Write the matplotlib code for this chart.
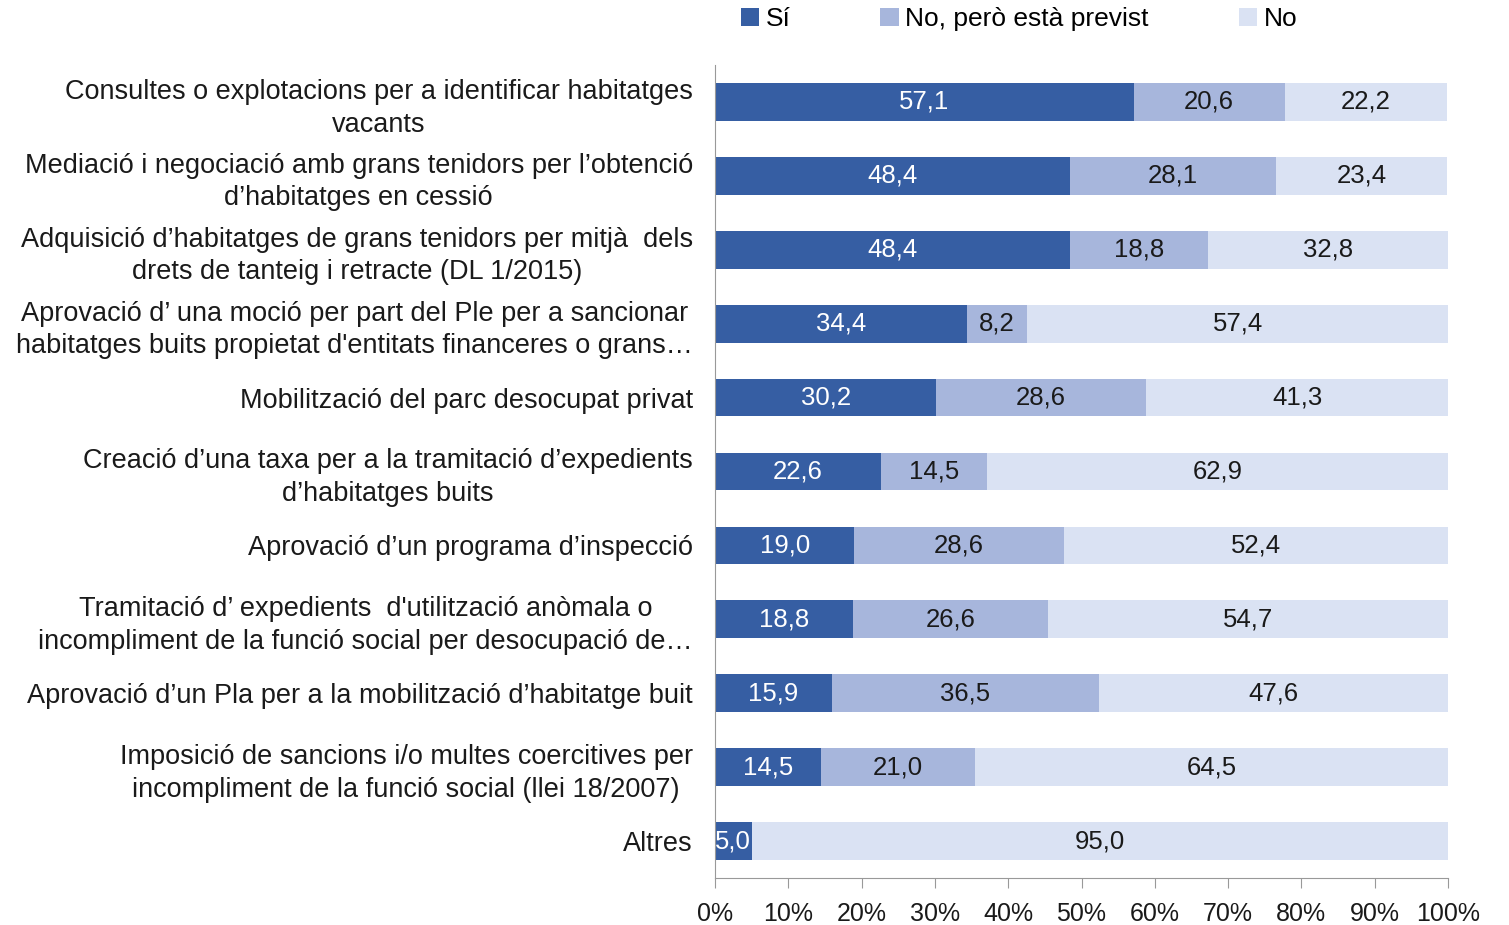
import matplotlib
matplotlib.use("Agg")
import matplotlib.pyplot as plt
from matplotlib.patches import Patch
import numpy as np

categories = [
    "Consultes o explotacions per a identificar habitatges\nvacants",
    "Mediació i negociació amb grans tenidors per l’obtenció\nd’habitatges en cessió",
    "Adquisició d’habitatges de grans tenidors per mitjà  dels\ndrets de tanteig i retracte (DL 1/2015)",
    "Aprovació d’ una moció per part del Ple per a sancionar\nhabitatges buits propietat d'entitats financeres o grans…",
    "Mobilització del parc desocupat privat",
    "Creació d’una taxa per a la tramitació d’expedients\nd’habitatges buits",
    "Aprovació d’un programa d’inspecció",
    "Tramitació d’ expedients  d'utilització anòmala o\nincompliment de la funció social per desocupació de…",
    "Aprovació d’un Pla per a la mobilització d’habitatge buit",
    "Imposició de sancions i/o multes coercitives per\nincompliment de la funció social (llei 18/2007)",
    "Altres",
]
si = [57.1, 48.4, 48.4, 34.4, 30.2, 22.6, 19.0, 18.8, 15.9, 14.5, 5.0]
previst = [20.6, 28.1, 18.8, 8.2, 28.6, 14.5, 28.6, 26.6, 36.5, 21.0, 0.0]
no = [22.2, 23.4, 32.8, 57.4, 41.3, 62.9, 52.4, 54.7, 47.6, 64.5, 95.0]
series_names = ["Sí", "No, però està previst", "No"]
xticks = [0, 10, 20, 30, 40, 50, 60, 70, 80, 90, 100]
xtick_labels = [f"{v}%" for v in xticks]

colors = ["#365EA3", "#A7B6DC", "#DAE2F3"]
text_colors = ["white", "#1a1a1a", "#1a1a1a"]

plt.rcParams['font.family'] = ['Liberation Sans', 'DejaVu Sans']
FS = 19.5
VFS = 18.5
TFS = 18

fig = plt.figure(figsize=(15.09, 9.25), dpi=100)
ax = fig.add_axes([715/1509, 1-878/925, (1448-715)/1509, (878-65)/925])

n = len(categories)
y = np.arange(n)
left = np.zeros(n)
for vals, c, tc in zip([si, previst, no], colors, text_colors):
    vals = np.array(vals)
    ax.barh(y, vals, left=left, height=0.51, color=c, edgecolor='none')
    for yi, l, v in zip(y, left, vals):
        if v > 0:
            ax.text(l + v/2, yi, f"{v:.1f}".replace('.', ','), ha='center', va='center',
                    color=tc, fontsize=VFS)
    left += vals

ax.set_ylim(n - 0.5, -0.5)
ax.set_xlim(0, 100)
ax.set_yticks(y)
ax.set_yticklabels(categories, fontsize=FS, multialignment='center', color='#1a1a1a',
                   linespacing=1.33)
ax.tick_params(axis='y', length=0, pad=16)
ax.set_xticks(xticks)
ax.set_xticklabels(xtick_labels, fontsize=TFS, color='#1a1a1a')
ax.tick_params(axis='x', direction='out', length=7, color='#999999', pad=10)
for s in ['top', 'right']:
    ax.spines[s].set_visible(False)
for s in ['left', 'bottom']:
    ax.spines[s].set_color('#999999')

handles = [Patch(facecolor=c, edgecolor='none') for c in colors]
fig.legend(handles, series_names, loc='upper center', bbox_to_anchor=(1019/1509, 1.018),
           ncol=3, frameon=False, fontsize=19, handlelength=0.7, handleheight=0.7,
           handletextpad=0.25, columnspacing=3.4)

fig.savefig("out.png", dpi=100)
